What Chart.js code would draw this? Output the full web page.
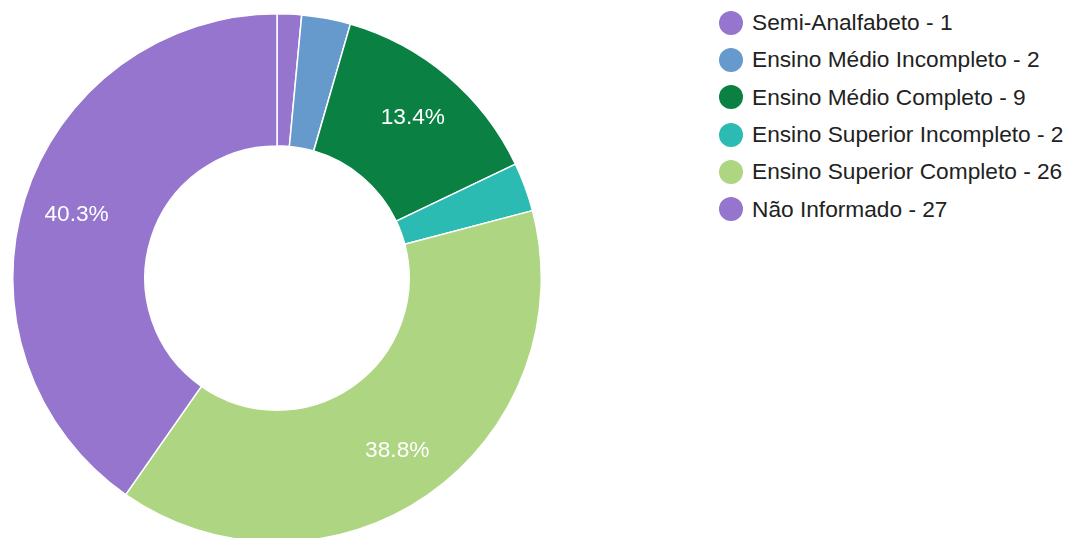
<!DOCTYPE html>
<html>
<head>
<meta charset="utf-8">
<script src="https://cdn.jsdelivr.net/npm/chart.js@4"></script>
<style>
    html, body { margin: 0; padding: 0; background: #fff; overflow: hidden; }
    body { width: 1068px; height: 538px; position: relative; font-family: "Liberation Sans", Arial, sans-serif; }
    #wrap { position: absolute; left: 12px; top: 13px; width: 530px; height: 530px; }
    #legend { position: absolute; left: 719px; top: 4px; }
    .item { height: 37.3px; display: flex; align-items: center; font-size: 22.7px; color: #222; white-space: nowrap; }
    .dot { width: 24px; height: 24px; border-radius: 50%; margin-right: 9px; flex: none; }
</style>
</head>
<body>
<div id="wrap"><canvas id="escolaridadeChart"></canvas></div>
<div id="legend"></div>
<script>
var categorias = ['Semi-Analfabeto', 'Ensino Médio Incompleto', 'Ensino Médio Completo',
    'Ensino Superior Incompleto', 'Ensino Superior Completo', 'Não Informado'];
var quantidades = [1, 2, 9, 2, 26, 27];
var cores = ['#9575cd', '#6699cc', '#0b8043', '#2bbbb3', '#aed581', '#9575cd'];

// rótulos de porcentagem dentro das fatias
var rotulos = {
    id: 'rotulos',
    afterDatasetsDraw: function(chart) {
        var ctx = chart.ctx;
        var meta = chart.getDatasetMeta(0);
        var total = quantidades.reduce(function(a, b) { return a + b; }, 0);
        ctx.save();
        ctx.font = '22.7px "Liberation Sans", Arial, sans-serif';
        ctx.fillStyle = '#fff';
        ctx.textAlign = 'center';
        ctx.textBaseline = 'middle';
        meta.data.forEach(function(arc, i) {
            var pct = quantidades[i] / total;
            if (pct < 0.05) return;
            var p = arc.getProps(['x', 'y', 'startAngle', 'endAngle', 'outerRadius']);
            var mid = (p.startAngle + p.endAngle) / 2;
            var r = p.outerRadius * 0.795;
            ctx.fillText((pct * 100).toFixed(1) + '%', p.x + Math.cos(mid) * r, p.y + Math.sin(mid) * r);
        });
        ctx.restore();
    }
};

var ctx = document.getElementById('escolaridadeChart').getContext('2d');
var chart = new Chart(ctx, {
    type: 'doughnut',
    data: {
        labels: categorias,
        datasets: [{
            data: quantidades,
            backgroundColor: cores,
            borderColor: '#fff',
            borderWidth: 1.5
        }]
    },
    options: {
        responsive: true,
        maintainAspectRatio: false,
        animation: false,
        cutout: '50%',
        plugins: {
            legend: { display: false },
            tooltip: { enabled: false }
        }
    },
    plugins: [rotulos]
});

// legenda em html
var legend = document.getElementById('legend');
categorias.forEach(function(nome, i) {
    var item = document.createElement('div');
    item.className = 'item';
    var dot = document.createElement('span');
    dot.className = 'dot';
    dot.style.background = cores[i];
    item.appendChild(dot);
    item.appendChild(document.createTextNode(nome + ' - ' + quantidades[i]));
    legend.appendChild(item);
});
</script>
</body>
</html>
